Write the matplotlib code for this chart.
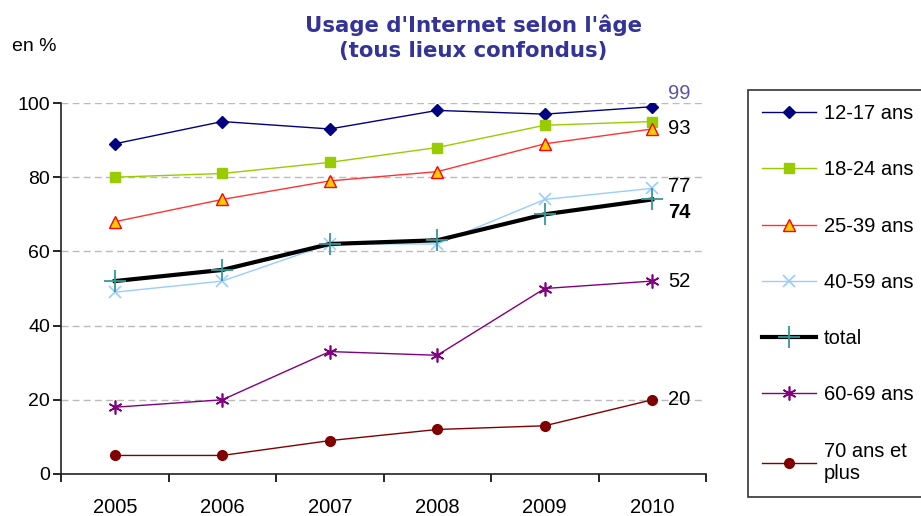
import numpy as np
import matplotlib
matplotlib.use("Agg")
import matplotlib.pyplot as plt

plt.rcParams["font.family"] = ["Liberation Sans", "DejaVu Sans"]

years = ["2005", "2006", "2007", "2008", "2009", "2010"]
s_12_17 = [89, 95, 93, 98, 97, 99]
s_18_24 = [80, 81, 84, 88, 94, 95]
s_25_39 = [68, 74, 79, 81.5, 89, 93]
s_40_59 = [49, 52, 62, 62, 74, 77]
s_total = [52, 55, 62, 63, 70, 74]
s_60_69 = [18, 20, 33, 32, 50, 52]
s_70 = [5, 5, 9, 12, 13, 20]

end_labels = ["99", "93", "77", "74", "52", "20"]
label_y = [102.5, 93, 77.5, 70.5, 52, 20]

x = np.arange(len(years))

fig = plt.figure(figsize=(9.21, 5.16), dpi=100)
ax = fig.add_axes([61 / 921, 42 / 516, 645 / 921, 371 / 516])

ax.plot(x, s_12_17, "-D", color="#000080", lw=1, ms=6, label="12-17 ans")
ax.plot(x, s_18_24, "-s", color="#99CC00", mfc="#99CC00", mec="#99CC00", lw=1, ms=7, label="18-24 ans")
ax.plot(x, s_25_39, "-^", color="#FF3333", mfc="#FFCC00", mec="#FF0000", lw=1, ms=8, label="25-39 ans")
ax.plot(x, s_40_59, "-x", color="#99CCFF", lw=1, ms=9, mew=1.2, label="40-59 ans")
ax.plot(x, s_total, "-+", color="black", mec="#339999", lw=3, ms=16, mew=1.3, label="total")
ax.plot(x, s_60_69, "-", marker=(6, 2, 0), color="#800080", lw=1, ms=10, mew=1.2, label="60-69 ans")
ax.plot(x, s_70, "-o", color="#800000", lw=1, ms=7, label="70 ans et\nplus")

ax.set_xlim(-0.5, 5.5)
ax.set_ylim(0, 100)
ax.set_yticks([0, 20, 40, 60, 80, 100])
ax.set_xticks(x)
ax.set_xticklabels(years)
ax.set_xticks(np.arange(-0.5, 6, 1), minor=True)
ax.tick_params(axis="x", which="major", length=0, pad=17, labelsize=14.5)
ax.tick_params(axis="x", which="minor", length=6, direction="out", width=1.2)
ax.tick_params(axis="y", length=6, width=1.2, labelsize=14, pad=2)
for sp in ["top", "right"]:
    ax.spines[sp].set_visible(False)
for sp in ["left", "bottom"]:
    ax.spines[sp].set_linewidth(1.2)
    ax.spines[sp].set_color("#222222")
ax.yaxis.grid(True, ls=(0, (5, 3)), color="#BBBBBB", lw=1)
ax.set_axisbelow(True)

for lab, ly in zip(end_labels, label_y):
    kw = dict(fontsize=14.5, va="center", ha="left", clip_on=False)
    if lab == "99":
        kw["color"] = "#5555AA"
    if lab == "74":
        kw["fontweight"] = "bold"
    ax.text(5.15, ly, lab, **kw)

fig.text(12 / 921, 1 - 47 / 516, "en %", fontsize=14, va="center", ha="left")
fig.text(473 / 921, 1 - 38 / 516, "Usage d'Internet selon l'âge\n(tous lieux confondus)",
         fontsize=15.3, fontweight="bold", color="#333399", ha="center", va="center",
         linespacing=1.3, family="DejaVu Sans")

leg = ax.legend(loc="upper left", bbox_to_anchor=(748 / 921, 1 - 90 / 516),
                bbox_transform=fig.transFigure, frameon=True, fancybox=False,
                edgecolor="black", fontsize=14.5, handlelength=2.7, handletextpad=0.35,
                labelspacing=1.85, borderpad=0.7, borderaxespad=0)
leg.get_frame().set_linewidth(1.2)

fig.savefig("out.png", dpi=100)
